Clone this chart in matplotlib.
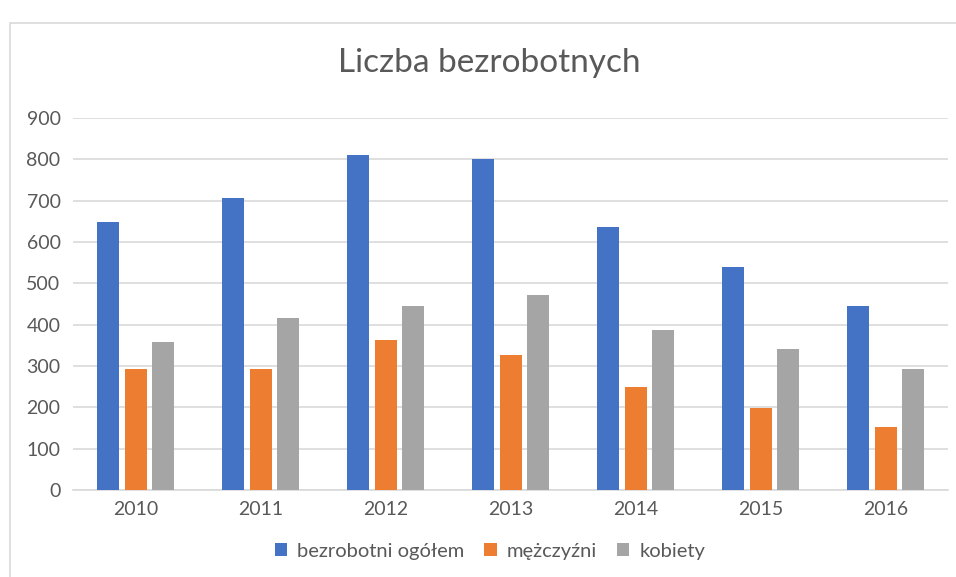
import numpy as np
import matplotlib.pyplot as plt
from matplotlib.patches import Rectangle

# Dane
years = ['2010', '2011', '2012', '2013', '2014', '2015', '2016']
ogolem = [648, 706, 810, 801, 636, 539, 445]
mezczyzni = [293, 293, 363, 327, 249, 198, 152]
kobiety = [358, 416, 445, 472, 387, 341, 293]

series = [('bezrobotni ogółem', ogolem, '#4472C4'),
          ('mężczyźni', mezczyzni, '#ED7D31'),
          ('kobiety', kobiety, '#A5A5A5')]

plt.rcParams['font.family'] = ['Lato', 'DejaVu Sans']
txt = '#595959'

fig = plt.figure(figsize=(9.56, 5.77), dpi=100)
fig.patches.append(Rectangle((10 / 956, -0.05), 1.1, 1.05 - 23 / 577, transform=fig.transFigure,
                             fill=False, edgecolor='#D9D9D9', linewidth=1.2))
ax = fig.add_axes([73 / 956, 1 - 490 / 577, 875 / 956, (490 - 118) / 577])

x = np.arange(len(years))
w = 0.176
step = 0.22
for i, (name, vals, col) in enumerate(series):
    ax.bar(x + (i - 1) * step, vals, width=w, color=col, label=name, zorder=3)

ax.set_xlim(-0.5, len(years) - 0.5)
ax.set_ylim(0, 900)
ax.set_yticks(range(0, 901, 100))
ax.set_xticks(x)
ax.set_xticklabels(years)
ax.yaxis.grid(True, color='#D9D9D9', linewidth=1.2, zorder=0)
for s in ['top', 'right', 'left']:
    ax.spines[s].set_visible(False)
ax.spines['bottom'].set_color('#D9D9D9')
ax.spines['bottom'].set_linewidth(1.2)
ax.tick_params(length=0, labelsize=14, labelcolor=txt, pad=8)
ax.tick_params(axis='y', pad=9)

fig.text(489 / 956, 1 - 63 / 577, 'Liczba bezrobotnych', ha='center', va='center',
         fontsize=24, color=txt)
fig.legend(loc='center', bbox_to_anchor=(490 / 956, 1 - 551 / 577), ncol=3, frameon=False,
           fontsize=14.5, labelcolor=txt, handlelength=0.6, handleheight=0.6,
           columnspacing=1.0, handletextpad=0.5)

fig.savefig('out.png', dpi=100)
